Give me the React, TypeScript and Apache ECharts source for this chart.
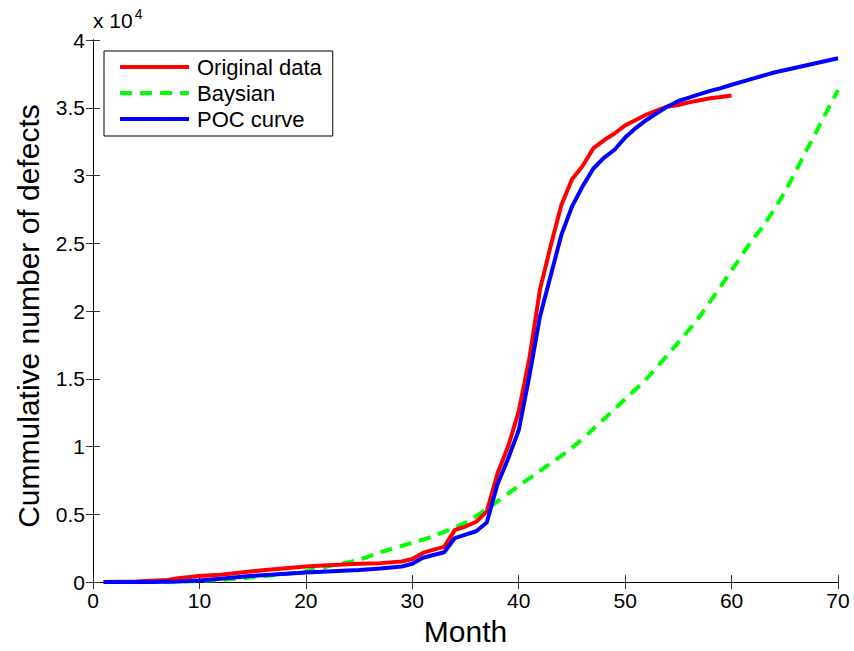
import React, { useEffect, useRef } from "react";
import * as echarts from "echarts";

const redMonths = [1, 4, 7, 8, 10, 12, 15, 17, 20, 22, 25, 27, 29, 30, 31, 32, 33, 34, 35, 36, 37, 38, 39, 40, 41, 42, 43, 44, 45, 46, 47, 48, 49, 50, 51, 52, 53, 54, 55, 56, 57, 58, 59, 60];
const redValues = [0, 50, 150, 280, 450, 550, 800, 950, 1150, 1250, 1350, 1400, 1520, 1700, 2150, 2400, 2600, 3850, 4100, 4450, 5200, 8000, 10000, 12600, 16500, 21600, 24800, 27800, 29700, 30700, 32000, 32600, 33100, 33700, 34100, 34500, 34800, 35100, 35200, 35400, 35550, 35700, 35800, 35900];

const blueMonths = [1, 5, 8, 10, 12, 15, 17, 20, 22, 25, 27, 29, 30, 31, 32, 33, 34, 35, 36, 37, 38, 39, 40, 41, 42, 43, 44, 45, 46, 47, 48, 49, 50, 51, 52, 53, 54, 55, 56, 57, 58, 59, 60, 62, 64, 66, 68, 70];
const blueValues = [0, 0, 50, 120, 250, 460, 560, 700, 780, 900, 1000, 1150, 1350, 1800, 2000, 2200, 3250, 3500, 3750, 4400, 7200, 9100, 11200, 15200, 19600, 22600, 25600, 27700, 29200, 30500, 31300, 31900, 32800, 33500, 34100, 34600, 35100, 35500, 35750, 36000, 36250, 36450, 36700, 37150, 37600, 37950, 38300, 38650];

const greenMonths = [1, 5, 10, 15, 20, 22, 25, 27, 30, 32, 35, 37, 40, 42, 45, 47, 50, 52, 55, 57, 60, 62, 63, 65, 67, 70];
const greenValues = [0, 10, 80, 350, 800, 1150, 1650, 2200, 2900, 3400, 4400, 5400, 7100, 8200, 9900, 11300, 13500, 15000, 17700, 19600, 23000, 25300, 26300, 28800, 31800, 36300];

const xTicks = [0, 10, 20, 30, 40, 50, 60, 70];
const yTickLabels = ["0", "0.5", "1", "1.5", "2", "2.5", "3", "3.5", "4"];

const FONT = "'Liberation Sans', Arial, Helvetica, sans-serif";

export default function App() {
  const ref = useRef<HTMLDivElement>(null);
  useEffect(() => {
    if (!ref.current) return;
    const chart = echarts.init(ref.current, undefined, { renderer: "svg" });
    const zip = (xs: number[], ys: number[]) => xs.map((x, i) => [x, ys[i]]);
    const axisLine = { show: true, lineStyle: { color: "#000", width: 1 } };
    const tickInside = { show: true, inside: true, length: 7, lineStyle: { color: "#333", width: 1 } };
    chart.setOption({
      animation: false,
      backgroundColor: "#fff",
      textStyle: { fontFamily: FONT },
      grid: { left: 93, right: 16, top: 40, bottom: 63, containLabel: false },
      legend: {
        orient: "vertical",
        left: 104,
        top: 51,
        padding: [5, 11, 6, 14],
        itemGap: 4,
        itemWidth: 69,
        itemHeight: 14,
        borderColor: "#000",
        borderWidth: 1,
        backgroundColor: "#fff",
        itemStyle: { opacity: 0 },
        lineStyle: { width: 4 },
        textStyle: { fontFamily: FONT, fontSize: 22, color: "#000", padding: [0, 0, 0, 3] },
        data: ["Original data", "Baysian", "POC curve"],
      },
      xAxis: [
        {
          type: "value",
          min: 0,
          max: 70,
          interval: 10,
          name: "Month",
          nameLocation: "middle",
          nameGap: 31,
          nameTextStyle: { fontFamily: FONT, fontSize: 30, color: "#000" },
          axisLine,
          axisTick: tickInside,
          axisLabel: { fontFamily: FONT, fontSize: 21, color: "#000", margin: 8, formatter: (v: number) => (xTicks.includes(v) ? String(v) : "") },
          splitLine: { show: false },
        },
        {
          type: "value",
          position: "top",
          min: 0,
          max: 70,
          interval: 10,
          axisLine,
          axisTick: tickInside,
          axisLabel: { show: false },
          splitLine: { show: false },
        },
      ],
      yAxis: [
        {
          type: "value",
          min: 0,
          max: 40000,
          interval: 5000,
          name: "Cummulative number of defects",
          nameLocation: "middle",
          nameGap: 50,
          nameTextStyle: { fontFamily: FONT, fontSize: 30, color: "#000", padding: [0, 10, 0, 0] },
          axisLine,
          axisTick: tickInside,
          axisLabel: {
            fontFamily: FONT,
            fontSize: 21,
            color: "#000",
            margin: 8,
            formatter: (v: number) => yTickLabels[Math.round(v / 5000)] ?? "",
          },
          splitLine: { show: false },
        },
        {
          type: "value",
          position: "right",
          min: 0,
          max: 40000,
          interval: 5000,
          axisLine,
          axisTick: tickInside,
          axisLabel: { show: false },
          splitLine: { show: false },
        },
      ],
      graphic: [
        {
          type: "text",
          left: 93,
          top: 7,
          style: {
            text: "x 10{s|4}",
            fontFamily: FONT,
            fontSize: 21,
            fill: "#000",
            rich: { s: { fontSize: 14, verticalAlign: "top", padding: [0, 0, 12, 2], fontFamily: FONT } },
          },
        },
      ],
      series: [
        {
          name: "Original data",
          type: "line",
          data: zip(redMonths, redValues),
          showSymbol: false,
          symbol: "none",
          lineStyle: { color: "#ff0000", width: 4 },
          itemStyle: { color: "#ff0000" },
          z: 3,
        },
        {
          name: "Baysian",
          type: "line",
          data: zip(greenMonths, greenValues),
          showSymbol: false,
          symbol: "none",
          smooth: 0.3,
          lineStyle: { color: "#00ff00", width: 4, type: [12, 8] },
          itemStyle: { color: "#00ff00" },
          z: 2,
        },
        {
          name: "POC curve",
          type: "line",
          data: zip(blueMonths, blueValues),
          showSymbol: false,
          symbol: "none",
          lineStyle: { color: "#0000ff", width: 4 },
          itemStyle: { color: "#0000ff" },
          z: 4,
        },
      ],
    });
    return () => chart.dispose();
  }, []);
  return <div ref={ref} style={{ position: "fixed", left: 0, top: 0, width: 854, height: 651 }} />;
}
